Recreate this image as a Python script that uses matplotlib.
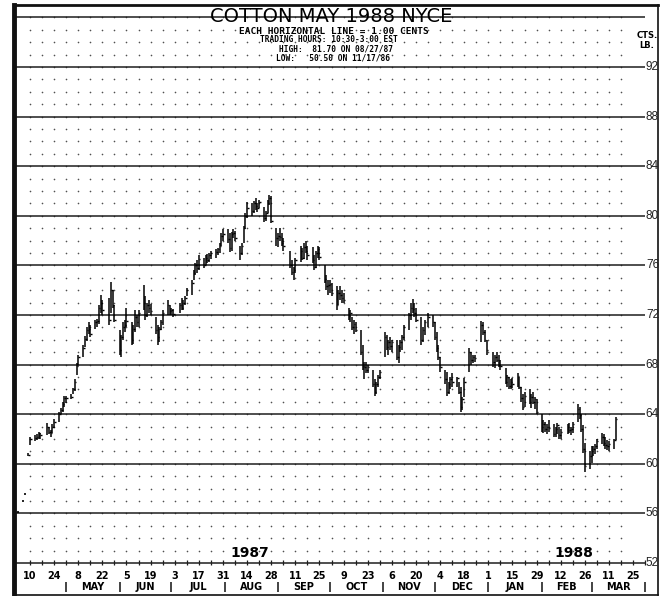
import numpy as np
import pandas as pd
import matplotlib
matplotlib.use("Agg")
import matplotlib.pyplot as plt

# x origin of the chart (first date label "10")
origin = pd.Timestamp("1987-04-10")

holidays = ["1987-04-17", "1987-05-25", "1987-07-03", "1987-09-07",
            "1987-11-26", "1987-12-25", "1988-01-01", "1988-02-15"]
dates = pd.bdate_range("1987-04-09", "1988-03-15")
dates = dates[~dates.isin(pd.to_datetime(holidays))]

# daily high / low / close, cents per lb (one row per month)
highs = [
    60.9, 62.2, 62.3, 62.4, 62.6, 62.5, 63.3, 63.0, 62.7, 63.2, 63.6, 64.2, 64.5, 65.0, 65.5,
    65.5, 65.6, 66.1, 66.8, 68.1, 68.8, 69.6, 70.3, 71.0, 71.4, 71.2, 71.6, 71.7, 72.8, 73.6, 73.2, 73.4, 74.7, 74.0, 72.8,
    70.8, 70.4, 71.4, 71.6, 72.6, 71.4, 71.2, 72.4, 72.0, 72.4, 74.4, 73.5, 73.0, 73.2, 72.9, 71.8, 71.2, 71.0, 71.6, 72.4, 73.2, 72.8,
    72.6, 72.5, 73.0, 73.4, 73.2, 73.5, 74.2, 74.8, 75.6, 76.2, 76.4, 76.8, 76.6, 76.8, 76.9, 77.0, 77.2, 77.3, 77.4, 77.8, 78.6, 78.9,
    78.9, 78.6, 78.7, 78.9, 78.8, 77.6, 77.8, 79.2, 80.2, 81.1, 81.0, 81.2, 81.4, 81.0, 81.3, 80.7, 80.4, 81.3, 81.7, 81.6, 79.0,
    78.6, 79.0, 78.6, 78.2, 77.2, 76.4, 75.9, 76.6, 77.6, 77.4, 77.8, 78.0, 77.6, 77.5, 76.8, 77.2, 77.6, 77.5, 76.0, 75.2, 74.8,
    74.8, 74.6, 74.3, 74.0, 74.3, 74.0, 73.8, 72.6, 72.4, 71.8, 71.6, 71.4, 70.8, 69.6, 68.2, 68.2, 68.0, 67.6, 66.8, 66.6, 67.2, 67.6,
    70.6, 70.4, 70.0, 70.2, 70.0, 70.0, 69.6, 70.0, 70.4, 71.2, 72.2, 73.0, 73.3, 73.0, 72.6, 71.8, 71.0, 71.6, 72.2, 72.0,
    71.4, 70.6, 69.6, 68.6, 67.6, 67.4, 66.6, 67.0, 67.3, 67.0, 66.6, 66.2, 65.4, 66.9, 69.3, 69.0, 68.8, 68.8, 71.5, 71.4, 70.8, 70.0,
    69.0, 68.8, 69.0, 68.8, 68.4, 67.7, 67.2, 67.0, 66.8, 66.9, 67.3, 67.0, 66.2, 65.6, 65.8, 66.0, 65.6, 65.8, 65.4, 65.2,
    64.0, 63.5, 63.4, 63.2, 63.5, 63.2, 63.0, 63.3, 63.0, 62.8, 63.2, 63.3, 63.0, 63.4, 64.8, 64.6, 64.0, 63.1, 61.7, 61.0,
    61.4, 61.4, 61.6, 62.0, 62.5, 62.4, 62.2, 61.9, 61.8, 62.0, 63.8,
]
lows = [
    60.6, 61.5, 61.8, 61.9, 62.0, 62.0, 62.3, 62.4, 62.2, 62.5, 62.9, 63.4, 64.0, 64.2, 64.6,
    64.9, 65.2, 65.6, 65.9, 67.2, 68.0, 68.6, 69.4, 69.9, 70.5, 70.2, 70.9, 71.0, 71.3, 72.2, 72.0, 71.2, 72.2, 72.6, 71.4,
    68.8, 68.6, 70.0, 70.6, 71.0, 69.6, 69.7, 70.6, 71.0, 71.0, 72.4, 71.6, 71.8, 72.2, 72.0, 70.5, 69.6, 69.8, 70.8, 71.2, 72.0, 72.0,
    72.0, 71.8, 72.2, 72.4, 72.4, 72.8, 73.5, 73.6, 74.8, 75.2, 75.4, 75.6, 75.8, 76.0, 76.2, 76.3, 76.5, 76.6, 76.8, 77.0, 77.6, 78.0,
    77.8, 77.1, 77.2, 78.2, 78.0, 76.4, 76.8, 77.8, 78.9, 79.8, 80.0, 80.2, 80.5, 80.3, 80.6, 79.5, 79.6, 80.2, 80.9, 79.4, 77.6,
    77.5, 78.0, 77.6, 77.2, 75.8, 75.2, 74.8, 75.4, 76.3, 76.4, 76.5, 77.0, 76.4, 76.2, 75.6, 75.8, 76.6, 76.4, 74.6, 74.0, 73.6,
    73.8, 73.5, 72.4, 72.8, 73.2, 73.0, 73.0, 71.6, 71.4, 70.8, 70.5, 70.6, 68.8, 67.6, 66.8, 67.3, 67.3, 66.2, 65.5, 65.6, 66.2, 66.8,
    68.6, 69.2, 68.8, 69.2, 69.0, 68.4, 68.1, 69.0, 69.2, 70.0, 70.8, 71.6, 72.2, 71.8, 71.4, 69.6, 69.8, 70.4, 71.0, 71.0,
    70.0, 69.0, 68.4, 67.4, 66.4, 65.5, 65.6, 66.0, 66.2, 66.2, 65.6, 64.2, 64.3, 65.4, 67.4, 68.0, 68.1, 68.2, 69.8, 70.4, 69.8, 68.8,
    67.8, 67.7, 68.2, 67.8, 67.6, 66.4, 66.2, 66.0, 66.0, 66.1, 66.2, 66.0, 65.0, 64.3, 64.6, 64.8, 64.5, 64.8, 64.4, 64.0,
    62.6, 62.5, 62.6, 62.4, 62.6, 62.2, 62.2, 62.4, 62.0, 62.0, 62.4, 62.5, 62.3, 62.5, 63.4, 63.6, 62.6, 60.9, 59.3, 59.6,
    60.1, 60.6, 60.8, 61.2, 61.6, 61.4, 61.2, 61.1, 61.0, 61.2, 61.9,
]
closes = [
    60.7, 62.0, 62.1, 62.2, 62.5, 62.3, 63.0, 62.6, 62.5, 63.0, 63.4, 64.0, 64.3, 64.8, 65.3,
    65.3, 65.4, 66.0, 66.6, 67.9, 68.6, 69.3, 70.1, 70.8, 70.9, 70.5, 71.4, 71.5, 72.6, 73.0, 72.4, 71.6, 74.0, 72.8, 71.6,
    69.2, 70.2, 71.0, 71.2, 71.5, 70.0, 70.9, 71.8, 71.4, 72.2, 73.0, 72.0, 72.8, 72.6, 72.3, 70.8, 70.2, 70.9, 71.4, 72.2, 72.8, 72.3,
    72.4, 72.1, 72.8, 72.6, 73.0, 73.4, 74.0, 74.6, 75.4, 76.0, 75.8, 76.5, 76.0, 76.6, 76.4, 76.8, 77.0, 77.1, 77.3, 77.6, 78.4, 78.5,
    78.1, 77.4, 78.5, 78.6, 78.2, 77.0, 77.6, 79.0, 80.0, 80.6, 80.4, 81.0, 80.8, 80.6, 81.1, 79.8, 80.2, 81.0, 81.4, 79.6, 78.2,
    78.4, 78.3, 77.8, 77.6, 76.0, 75.5, 75.6, 76.4, 77.2, 76.6, 77.5, 77.2, 76.8, 76.4, 75.9, 77.0, 77.3, 76.7, 74.9, 74.3, 74.4,
    74.5, 73.8, 72.8, 73.8, 73.6, 73.4, 73.2, 71.9, 72.2, 71.0, 71.3, 70.8, 69.0, 67.9, 67.8, 67.6, 67.8, 66.4, 65.8, 66.4, 67.0, 67.4,
    70.2, 69.4, 69.8, 69.5, 69.8, 68.6, 69.4, 69.8, 70.2, 71.0, 72.0, 72.6, 72.5, 72.2, 71.6, 70.0, 70.8, 71.4, 71.8, 71.4,
    70.2, 69.3, 68.6, 67.8, 66.8, 65.8, 66.4, 66.8, 66.6, 66.9, 65.8, 64.6, 65.2, 66.6, 69.0, 68.4, 68.6, 68.5, 71.2, 70.6, 70.0, 69.2,
    68.2, 68.6, 68.4, 68.0, 67.9, 66.6, 67.0, 66.3, 66.6, 66.4, 67.1, 66.2, 65.3, 64.6, 65.5, 65.0, 65.4, 65.0, 65.2, 64.2,
    63.0, 63.2, 62.8, 63.0, 62.9, 62.4, 62.8, 63.1, 62.3, 62.6, 63.0, 62.7, 62.8, 63.2, 64.4, 63.9, 62.8, 61.2, 59.8, 60.6,
    61.0, 61.2, 61.4, 61.8, 62.2, 61.7, 61.5, 61.4, 61.6, 61.9, 63.6,
]

# thin early trading before the regular bars
early_dates = pd.to_datetime(["1987-04-03", "1987-04-06", "1987-04-07"])
early_prices = [56.1, 57.0, 57.6]

price_lines = list(range(52, 97, 4))
price_labels = list(range(52, 93, 4))
label_dates = pd.date_range("1987-04-10", "1988-03-25", freq="14D")
month_starts = pd.date_range("1987-05-01", "1988-04-01", freq="MS")
month_names = ["MAY", "JUN", "JUL", "AUG", "SEP", "OCT", "NOV", "DEC",
               "JAN", "FEB", "MAR"]


def day(d):
    return (pd.DatetimeIndex(d) - origin).days.values


PX_DAY = 1.723      # pixels per calendar day in the reference
PX_CENT = 12.4      # pixels per cent


def px2day(px):
    return (px - 30) / PX_DAY


def py2price(py):
    return 52 + (563 - py) / PX_CENT


W, H = 665, 596
fig = plt.figure(figsize=(W / 100, H / 100), dpi=100)
fig.patch.set_facecolor("white")
ax = fig.add_axes([14 / W, 1 / H, (658 - 14) / W, (595 - 5) / H])
ax.set_xlim(px2day(14), px2day(658))
ax.set_ylim(py2price(595), py2price(5))
ax.set_xticks([])
ax.set_yticks([])
for side, lw in [("left", 3.5), ("top", 2.0), ("right", 1.2), ("bottom", 1.2)]:
    ax.spines[side].set_linewidth(lw)
    ax.spines[side].set_color("#111111")

# dotted grid: one dot per cent, one column per week
weeks = np.arange(0, 349, 7)
cents = np.arange(53, 97)
gx, gy = np.meshgrid(weeks, cents)
ax.scatter(gx.ravel(), gy.ravel(), s=1.4, color="#505050", linewidths=0, zorder=1)

# heavy horizontal lines every 4 cents
line_end = px2day(645)
ax.hlines(price_lines, px2day(14), line_end, color="#1e1e1e", lw=1.1, zorder=2)
for p in price_labels:
    ax.text(line_end + 0.5, p, str(p), ha="left", va="center", fontsize=8.5,
            family=["Liberation Sans Narrow", "Liberation Sans"], color="#222222")

# weekly ticks on the bottom line
ax.vlines(np.arange(0, 358, 7), 51.8, 52.25, color="#1e1e1e", lw=0.9)

# price bars
x = day(dates)
ax.vlines(x, lows, highs, color="black", lw=1.1, zorder=3)
ax.hlines(closes, x, x + 0.9, color="black", lw=1.0, zorder=3)
xe = day(early_dates)
ax.hlines(early_prices, xe - 0.5, xe + 0.6, color="black", lw=1.2, zorder=3)

# date labels
for d in label_dates:
    ax.text(day([d])[0], py2price(576), str(d.day), ha="center", va="center",
            fontsize=7, fontweight="bold", family="DejaVu Sans")
ms = day(month_starts)
ax.vlines(ms, py2price(592), py2price(582), color="#111111", lw=1.1)
for i, name in enumerate(month_names):
    ax.text((ms[i] + ms[i + 1]) / 2, py2price(587), name, ha="center", va="center",
            fontsize=7, fontweight="bold", family="DejaVu Sans")

ax.text(px2day(250), py2price(553), "1987", ha="center", va="center",
        fontsize=10, fontweight="bold")
ax.text(px2day(574), py2price(553), "1988", ha="center", va="center",
        fontsize=10, fontweight="bold")

# header text
fig.text(331 / W, 1 - 17 / H, "COTTON MAY 1988 NYCE", ha="center", va="center",
         fontsize=14, family="DejaVu Sans")
hdr = dict(ha="center", va="center", family="DejaVu Sans Mono", fontweight="bold")
fig.text(334 / W, 1 - 31 / H, "EACH HORIZONTAL LINE = 1.00 CENTS", fontsize=6.8, **hdr)
fig.text(329 / W, 1 - 40 / H, "TRADING HOURS: 10:30-3:00 EST", fontsize=5.7, **hdr)
fig.text(336 / W, 1 - 49 / H, "HIGH:  81.70 ON 08/27/87", fontsize=5.7, **hdr)
fig.text(333 / W, 1 - 58 / H, "LOW:   50.50 ON 11/17/86", fontsize=5.7, **hdr)
fig.text(647 / W, 1 - 35 / H, "CTS.", ha="center", va="center", fontsize=6, fontweight="bold")
fig.text(647 / W, 1 - 46 / H, "LB.", ha="center", va="center", fontsize=6, fontweight="bold")

fig.savefig("out.png", dpi=100)
